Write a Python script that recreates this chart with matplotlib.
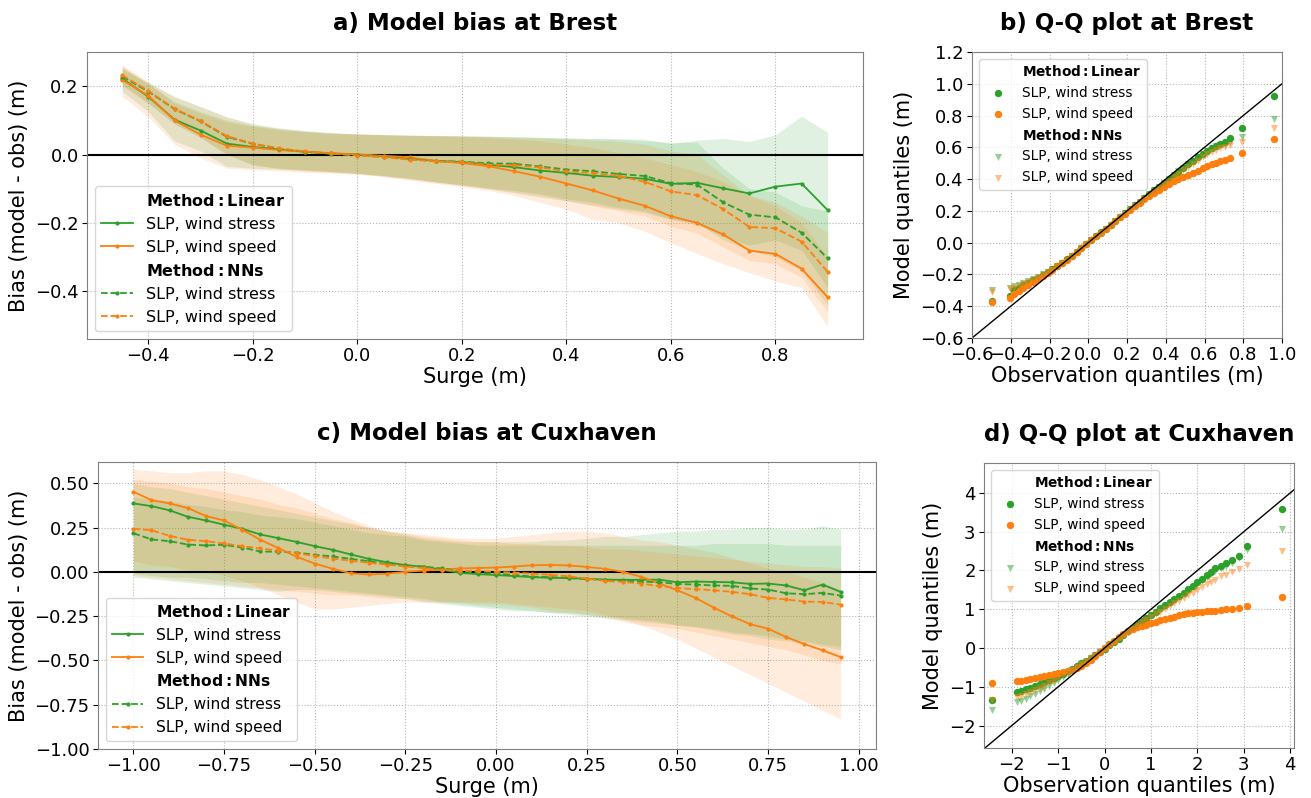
import matplotlib
matplotlib.use("Agg")
import matplotlib.pyplot as plt

GREEN = "#2ca02c"
ORANGE = "#ff7f0e"
W, H = 1311, 798

# ---------------- a) Brest: bias vs surge ----------------
surge_brest = [-0.45, -0.4, -0.35, -0.3, -0.25, -0.2, -0.15, -0.1, -0.05, 0.0,
               0.05, 0.1, 0.15, 0.2, 0.25, 0.3, 0.35, 0.4, 0.45, 0.5,
               0.55, 0.6, 0.65, 0.7, 0.75, 0.8, 0.85, 0.9]
brest_lin_stress = [0.222, 0.169, 0.102, 0.070, 0.032, 0.022, 0.015, 0.008, 0.003, 0.0,
                    -0.005, -0.012, -0.019, -0.022, -0.030, -0.037, -0.047, -0.054, -0.062, -0.066,
                    -0.071, -0.086, -0.083, -0.099, -0.114, -0.094, -0.085, -0.163]
brest_lin_speed = [0.218, 0.172, 0.100, 0.058, 0.026, 0.020, 0.013, 0.008, 0.004, 0.0,
                   -0.004, -0.008, -0.019, -0.025, -0.034, -0.049, -0.065, -0.085, -0.105, -0.129,
                   -0.150, -0.181, -0.200, -0.234, -0.281, -0.291, -0.334, -0.418]
brest_nn_stress = [0.228, 0.184, 0.133, 0.097, 0.052, 0.031, 0.017, 0.008, 0.002, -0.002,
                   -0.007, -0.014, -0.019, -0.021, -0.026, -0.027, -0.035, -0.044, -0.049, -0.057,
                   -0.063, -0.084, -0.088, -0.140, -0.176, -0.184, -0.229, -0.304]
brest_nn_speed = [0.232, 0.186, 0.134, 0.098, 0.054, 0.032, 0.018, 0.009, 0.003, -0.003,
                  -0.008, -0.015, -0.020, -0.023, -0.030, -0.031, -0.038, -0.049, -0.054, -0.063,
                  -0.080, -0.108, -0.119, -0.160, -0.212, -0.216, -0.255, -0.344]
# spread bands (lower / upper)
brest_lin_stress_hi = [0.255, 0.205, 0.155, 0.125, 0.100, 0.085, 0.075, 0.068, 0.063, 0.060,
                       0.058, 0.057, 0.056, 0.055, 0.054, 0.052, 0.050, 0.048, 0.047, 0.046,
                       0.045, 0.032, 0.042, 0.047, 0.038, 0.058, 0.112, 0.065]
brest_lin_stress_lo = [0.185, 0.125, 0.040, 0.010, -0.035, -0.040, -0.043, -0.046, -0.050, -0.055,
                       -0.062, -0.070, -0.080, -0.090, -0.100, -0.112, -0.125, -0.135, -0.148, -0.160,
                       -0.170, -0.190, -0.205, -0.240, -0.265, -0.250, -0.280, -0.390]
brest_nn_stress_hi = [0.250, 0.210, 0.170, 0.140, 0.110, 0.090, 0.078, 0.070, 0.064, 0.060,
                      0.058, 0.056, 0.055, 0.054, 0.053, 0.052, 0.050, 0.048, 0.046, 0.045,
                      0.040, 0.035, 0.036, -0.040, -0.100, -0.110, -0.150, -0.166]
brest_nn_stress_lo = [0.205, 0.150, 0.090, 0.050, 0.000, -0.030, -0.040, -0.045, -0.050, -0.055,
                      -0.062, -0.070, -0.080, -0.088, -0.098, -0.105, -0.115, -0.130, -0.140, -0.155,
                      -0.165, -0.190, -0.200, -0.250, -0.280, -0.300, -0.340, -0.440]
brest_lin_speed_hi = [0.262, 0.210, 0.150, 0.120, 0.095, 0.082, 0.072, 0.066, 0.062, 0.060,
                      0.058, 0.056, 0.055, 0.053, 0.050, 0.045, 0.040, 0.030, 0.020, 0.005,
                      -0.010, -0.030, -0.050, -0.080, -0.120, -0.150, -0.200, -0.300]
brest_lin_speed_lo = [0.170, 0.110, 0.030, -0.010, -0.040, -0.045, -0.048, -0.052, -0.055, -0.058,
                      -0.065, -0.075, -0.085, -0.095, -0.105, -0.120, -0.140, -0.160, -0.190, -0.200,
                      -0.225, -0.258, -0.290, -0.320, -0.346, -0.370, -0.390, -0.504]
brest_nn_speed_hi = [0.258, 0.212, 0.168, 0.140, 0.110, 0.088, 0.076, 0.068, 0.063, 0.060,
                     0.058, 0.056, 0.055, 0.054, 0.052, 0.050, 0.048, 0.045, 0.042, 0.038,
                     0.030, 0.010, 0.000, -0.060, -0.120, -0.140, -0.180, -0.229]
brest_nn_speed_lo = [0.200, 0.150, 0.090, 0.050, 0.000, -0.030, -0.042, -0.048, -0.052, -0.056,
                     -0.064, -0.072, -0.082, -0.090, -0.100, -0.110, -0.120, -0.135, -0.150, -0.165,
                     -0.180, -0.210, -0.230, -0.270, -0.310, -0.320, -0.360, -0.460]

# ---------------- c) Cuxhaven: bias vs surge ----------------
surge_cux = [-1.0, -0.95, -0.9, -0.85, -0.8, -0.75, -0.7, -0.65, -0.6, -0.55,
             -0.5, -0.45, -0.4, -0.35, -0.3, -0.25, -0.2, -0.15, -0.1, -0.05,
             0.0, 0.05, 0.1, 0.15, 0.2, 0.25, 0.3, 0.35, 0.4, 0.45,
             0.5, 0.55, 0.6, 0.65, 0.7, 0.75, 0.8, 0.85, 0.9, 0.95]
cux_lin_stress = [0.386, 0.371, 0.347, 0.311, 0.290, 0.266, 0.243, 0.211, 0.190, 0.169,
                  0.145, 0.124, 0.098, 0.073, 0.054, 0.038, 0.028, 0.013, -0.006, -0.013,
                  -0.018, -0.024, -0.030, -0.034, -0.034, -0.040, -0.044, -0.045, -0.045, -0.044,
                  -0.059, -0.055, -0.057, -0.059, -0.068, -0.066, -0.077, -0.104, -0.072, -0.113]
cux_lin_speed = [0.452, 0.405, 0.386, 0.360, 0.315, 0.290, 0.238, 0.181, 0.134, 0.085,
                 0.047, 0.017, -0.008, -0.015, -0.010, 0.000, 0.007, 0.013, 0.019, 0.022,
                 0.024, 0.030, 0.037, 0.039, 0.036, 0.028, 0.017, 0.000, -0.028, -0.066,
                 -0.104, -0.147, -0.202, -0.251, -0.295, -0.321, -0.368, -0.408, -0.443, -0.481]
cux_nn_stress = [0.218, 0.183, 0.173, 0.154, 0.149, 0.153, 0.137, 0.115, 0.113, 0.109,
                 0.096, 0.087, 0.073, 0.060, 0.043, 0.036, 0.030, 0.019, 0.005, -0.006,
                 -0.012, -0.017, -0.027, -0.030, -0.036, -0.040, -0.045, -0.049, -0.055, -0.059,
                 -0.068, -0.072, -0.077, -0.079, -0.094, -0.100, -0.121, -0.126, -0.119, -0.134]
cux_nn_speed = [0.243, 0.235, 0.203, 0.181, 0.173, 0.160, 0.145, 0.132, 0.120, 0.104,
                0.090, 0.075, 0.062, 0.051, 0.041, 0.030, 0.021, 0.011, 0.007, 0.005,
                0.000, -0.004, -0.010, -0.017, -0.025, -0.038, -0.051, -0.057, -0.066, -0.081,
                -0.091, -0.098, -0.104, -0.113, -0.126, -0.147, -0.156, -0.168, -0.170, -0.185]
cux_lin_stress_hi = [0.50, 0.48, 0.47, 0.45, 0.43, 0.41, 0.39, 0.37, 0.35, 0.33,
                     0.31, 0.29, 0.27, 0.25, 0.23, 0.21, 0.19, 0.18, 0.17, 0.17,
                     0.17, 0.17, 0.17, 0.18, 0.18, 0.19, 0.20, 0.20, 0.21, 0.22,
                     0.23, 0.23, 0.24, 0.24, 0.25, 0.25, 0.24, 0.24, 0.26, 0.24]
cux_lin_stress_lo = [-0.03, -0.04, -0.05, -0.06, -0.07, -0.08, -0.09, -0.10, -0.11, -0.10,
                     -0.10, -0.11, -0.12, -0.13, -0.14, -0.15, -0.17, -0.18, -0.19, -0.20,
                     -0.21, -0.22, -0.22, -0.23, -0.24, -0.25, -0.26, -0.27, -0.28, -0.29,
                     -0.30, -0.31, -0.33, -0.35, -0.36, -0.38, -0.39, -0.41, -0.42, -0.44]
cux_nn_stress_hi = [0.42, 0.41, 0.40, 0.38, 0.37, 0.35, 0.34, 0.32, 0.31, 0.30,
                    0.28, 0.26, 0.24, 0.22, 0.21, 0.20, 0.18, 0.17, 0.16, 0.15,
                    0.15, 0.15, 0.15, 0.15, 0.15, 0.15, 0.15, 0.15, 0.15, 0.15,
                    0.15, 0.15, 0.16, 0.16, 0.16, 0.16, 0.15, 0.15, 0.15, 0.15]
cux_nn_stress_lo = [-0.01, -0.02, -0.03, -0.03, -0.04, -0.05, -0.06, -0.06, -0.07, -0.08,
                    -0.09, -0.10, -0.11, -0.12, -0.13, -0.14, -0.15, -0.17, -0.18, -0.19,
                    -0.20, -0.21, -0.22, -0.23, -0.23, -0.24, -0.25, -0.26, -0.27, -0.28,
                    -0.30, -0.31, -0.32, -0.34, -0.35, -0.36, -0.38, -0.39, -0.41, -0.42]
cux_lin_speed_hi = [0.58, 0.57, 0.56, 0.56, 0.57, 0.57, 0.55, 0.52, 0.48, 0.44,
                    0.39, 0.34, 0.30, 0.26, 0.23, 0.22, 0.21, 0.20, 0.19, 0.19,
                    0.19, 0.20, 0.21, 0.22, 0.23, 0.23, 0.22, 0.20, 0.18, 0.17,
                    0.15, 0.13, 0.11, 0.08, 0.05, 0.02, 0.00, -0.03, -0.06, -0.10]
cux_lin_speed_lo = [0.06, 0.04, 0.03, 0.01, 0.00, -0.02, -0.05, -0.09, -0.13, -0.17,
                    -0.21, -0.21, -0.20, -0.19, -0.18, -0.17, -0.17, -0.17, -0.17, -0.17,
                    -0.17, -0.18, -0.19, -0.20, -0.21, -0.22, -0.24, -0.27, -0.30, -0.34,
                    -0.38, -0.43, -0.48, -0.53, -0.58, -0.63, -0.68, -0.73, -0.78, -0.83]
cux_nn_speed_hi = [0.52, 0.51, 0.50, 0.48, 0.47, 0.45, 0.43, 0.41, 0.38, 0.36,
                   0.33, 0.30, 0.28, 0.25, 0.23, 0.22, 0.20, 0.19, 0.18, 0.17,
                   0.17, 0.16, 0.16, 0.15, 0.15, 0.14, 0.13, 0.13, 0.12, 0.11,
                   0.10, 0.09, 0.08, 0.07, 0.06, 0.05, 0.04, 0.03, 0.03, 0.02]
cux_nn_speed_lo = [-0.02, -0.03, -0.04, -0.05, -0.06, -0.07, -0.08, -0.09, -0.10, -0.11,
                   -0.12, -0.13, -0.13, -0.14, -0.15, -0.15, -0.16, -0.17, -0.17, -0.18,
                   -0.18, -0.19, -0.20, -0.22, -0.23, -0.24, -0.26, -0.28, -0.30, -0.31,
                   -0.32, -0.34, -0.36, -0.38, -0.40, -0.42, -0.44, -0.47, -0.50, -0.52]

# ---------------- b) Brest Q-Q ----------------
qq_obs_brest = [-0.495, -0.405, -0.385, -0.36, -0.335, -0.31, -0.285, -0.26, -0.235, -0.21,
                -0.185, -0.16, -0.135, -0.11, -0.085, -0.06, -0.035, -0.01, 0.015, 0.04,
                0.065, 0.09, 0.115, 0.14, 0.165, 0.19, 0.215, 0.24, 0.265, 0.29,
                0.315, 0.34, 0.365, 0.39, 0.415, 0.44, 0.465, 0.49, 0.515, 0.54,
                0.565, 0.59, 0.615, 0.64, 0.66, 0.682, 0.704, 0.73, 0.794, 0.957]
qq_brest_lin_stress = [-0.367, -0.338, -0.300, -0.285, -0.268, -0.252, -0.236, -0.220, -0.204, -0.186,
                       -0.167, -0.148, -0.127, -0.105, -0.082, -0.058, -0.034, -0.010, 0.015, 0.040,
                       0.064, 0.088, 0.113, 0.137, 0.161, 0.186, 0.210, 0.234, 0.258, 0.282,
                       0.306, 0.330, 0.353, 0.377, 0.400, 0.424, 0.447, 0.470, 0.493, 0.515,
                       0.537, 0.558, 0.578, 0.596, 0.610, 0.622, 0.636, 0.656, 0.721, 0.922]
qq_brest_lin_speed = [-0.371, -0.350, -0.320, -0.305, -0.288, -0.268, -0.250, -0.230, -0.210, -0.190,
                      -0.170, -0.150, -0.129, -0.107, -0.084, -0.060, -0.036, -0.011, 0.014, 0.039,
                      0.063, 0.087, 0.111, 0.135, 0.159, 0.183, 0.206, 0.229, 0.251, 0.273,
                      0.294, 0.314, 0.334, 0.352, 0.369, 0.385, 0.400, 0.414, 0.428, 0.441,
                      0.454, 0.467, 0.480, 0.492, 0.502, 0.512, 0.522, 0.535, 0.564, 0.654]
qq_brest_nn_stress = [-0.298, -0.283, -0.275, -0.265, -0.255, -0.243, -0.230, -0.216, -0.200, -0.184,
                      -0.166, -0.148, -0.128, -0.106, -0.083, -0.059, -0.035, -0.010, 0.014, 0.039,
                      0.063, 0.088, 0.112, 0.137, 0.161, 0.186, 0.210, 0.234, 0.258, 0.282,
                      0.306, 0.330, 0.353, 0.377, 0.401, 0.425, 0.448, 0.471, 0.494, 0.516,
                      0.538, 0.559, 0.578, 0.595, 0.606, 0.614, 0.622, 0.632, 0.667, 0.776]
qq_brest_nn_speed = [-0.308, -0.293, -0.285, -0.272, -0.260, -0.247, -0.234, -0.220, -0.204, -0.187,
                     -0.169, -0.150, -0.130, -0.108, -0.085, -0.061, -0.036, -0.011, 0.014, 0.038,
                     0.062, 0.087, 0.111, 0.135, 0.159, 0.183, 0.207, 0.231, 0.254, 0.277,
                     0.300, 0.323, 0.346, 0.368, 0.390, 0.412, 0.434, 0.455, 0.476, 0.497,
                     0.517, 0.537, 0.555, 0.572, 0.584, 0.594, 0.603, 0.612, 0.633, 0.719]

# ---------------- d) Cuxhaven Q-Q ----------------
qq_obs_cux = [-2.42, -1.88, -1.8, -1.7, -1.6, -1.5, -1.4, -1.3, -1.2, -1.1,
              -1.0, -0.9, -0.8, -0.7, -0.6, -0.5, -0.4, -0.3, -0.2, -0.1,
              0.0, 0.1, 0.2, 0.3, 0.4, 0.5, 0.6, 0.7, 0.8, 0.9,
              1.0, 1.1, 1.2, 1.3, 1.4, 1.5, 1.6, 1.7, 1.8, 1.9,
              2.0, 2.1, 2.2, 2.3, 2.37, 2.50, 2.61, 2.75, 2.89, 3.06, 3.83]
qq_cux_lin_stress = [-1.35, -1.14, -1.11, -1.07, -1.03, -0.98, -0.93, -0.88, -0.83, -0.775,
                     -0.72, -0.66, -0.60, -0.535, -0.47, -0.40, -0.33, -0.25, -0.17, -0.095,
                     -0.02, 0.065, 0.15, 0.24, 0.33, 0.425, 0.52, 0.61, 0.70, 0.78,
                     0.86, 0.94, 1.02, 1.10, 1.18, 1.26, 1.34, 1.43, 1.52, 1.61,
                     1.70, 1.785, 1.87, 1.96, 2.06, 2.12, 2.18, 2.26, 2.38, 2.64, 3.59]
qq_cux_lin_speed = [-0.90, -0.86, -0.84, -0.815, -0.79, -0.765, -0.74, -0.72, -0.695, -0.67,
                    -0.645, -0.62, -0.59, -0.56, -0.52, -0.46, -0.39, -0.30, -0.20, -0.10,
                    0.0, 0.10, 0.19, 0.28, 0.36, 0.425, 0.48, 0.53, 0.57, 0.605,
                    0.64, 0.675, 0.71, 0.745, 0.78, 0.81, 0.84, 0.865, 0.89, 0.905,
                    0.92, 0.935, 0.945, 0.955, 0.96, 0.98, 1.00, 1.015, 1.04, 1.09, 1.32]
qq_cux_nn_stress = [-1.61, -1.40, -1.36, -1.31, -1.25, -1.19, -1.12, -1.05, -0.97, -0.90,
                    -0.82, -0.74, -0.66, -0.58, -0.50, -0.425, -0.35, -0.265, -0.18, -0.10,
                    -0.02, 0.065, 0.15, 0.24, 0.33, 0.42, 0.51, 0.595, 0.68, 0.76,
                    0.84, 0.92, 1.00, 1.075, 1.15, 1.23, 1.31, 1.395, 1.48, 1.565,
                    1.65, 1.735, 1.82, 1.90, 1.98, 2.06, 2.12, 2.20, 2.31, 2.52, 3.08]
qq_cux_nn_speed = [-1.35, -1.26, -1.23, -1.18, -1.13, -1.08, -1.02, -0.97, -0.91, -0.845,
                   -0.78, -0.71, -0.64, -0.565, -0.49, -0.415, -0.34, -0.255, -0.17, -0.09,
                   -0.01, 0.075, 0.16, 0.245, 0.33, 0.415, 0.50, 0.58, 0.66, 0.73,
                   0.80, 0.87, 0.94, 1.01, 1.08, 1.15, 1.22, 1.29, 1.36, 1.43,
                   1.50, 1.57, 1.64, 1.71, 1.76, 1.85, 1.89, 1.95, 2.04, 2.15, 2.49]

LIN_TITLE = r"$\bf{Method:Linear}$"
NN_TITLE = r"$\bf{Method:NNs}$"


def px_rect(l, t, r, b):
    return [l / W, 1 - b / H, (r - l) / W, (b - t) / H]


def style_axes(ax):
    ax.grid(True, ls=":", color="#b5b5b5", lw=0.8)
    ax.set_axisbelow(True)
    for s in ax.spines.values():
        s.set_color("#808080")
    ax.tick_params(labelsize=13, pad=2.5)


def bias_panel(ax, x, lines, bands, title, legsize):
    for (lo, hi), c in zip(bands, [GREEN, ORANGE, GREEN, ORANGE]):
        ax.fill_between(x, lo, hi, color=c, alpha=0.14, lw=0)
    ax.axhline(0, color="k", lw=1.5)
    h0, = ax.plot([], [], " ", label=LIN_TITLE)
    h1, = ax.plot(x, lines[0], color=GREEN, lw=1.3, marker=".", ms=4, label="SLP, wind stress")
    h2, = ax.plot(x, lines[1], color=ORANGE, lw=1.3, marker=".", ms=4, label="SLP, wind speed")
    h3, = ax.plot([], [], " ", label=NN_TITLE)
    h4, = ax.plot(x, lines[2], color=GREEN, lw=1.3, ls="--", marker=".", ms=4, label="SLP, wind stress")
    h5, = ax.plot(x, lines[3], color=ORANGE, lw=1.3, ls="--", marker=".", ms=4, label="SLP, wind speed")
    ax.legend(handles=[h0, h1, h2, h3, h4, h5], loc="lower left", fontsize=legsize)
    ax.set_xlabel("Surge (m)", fontsize=15, labelpad=1)
    ax.set_ylabel("Bias (model - obs) (m)", fontsize=15)
    ax.set_title(title, fontsize=16.5, fontweight="bold", pad=16)
    style_axes(ax)


def qq_panel(ax, obs, series, title):
    h0 = ax.scatter([], [], marker="None", label=LIN_TITLE)
    h1 = ax.scatter(obs, series[0], color=GREEN, s=28, lw=0, label="SLP, wind stress")
    h2 = ax.scatter(obs, series[1], color=ORANGE, s=28, lw=0, label="SLP, wind speed")
    h3 = ax.scatter([], [], marker="None", label=NN_TITLE)
    h4 = ax.scatter(obs, series[2], color=GREEN, s=26, lw=0, marker="v", alpha=0.5, label="SLP, wind stress")
    h5 = ax.scatter(obs, series[3], color=ORANGE, s=26, lw=0, marker="v", alpha=0.5, label="SLP, wind speed")
    ax.axline((0, 0), (1, 1), color="k", lw=1)
    ax.legend(handles=[h0, h1, h2, h3, h4, h5], loc="upper left", fontsize=9.8, scatterpoints=1)
    ax.set_xlabel("Observation quantiles (m)", fontsize=15, labelpad=1)
    ax.set_ylabel("Model quantiles (m)", fontsize=15)
    ax.set_title(title, fontsize=16.5, fontweight="bold", pad=16)
    style_axes(ax)


fig = plt.figure(figsize=(W / 100, H / 100), dpi=100)

ax_a = fig.add_axes(px_rect(87, 52, 863, 339))
bias_panel(ax_a, surge_brest,
           [brest_lin_stress, brest_lin_speed, brest_nn_stress, brest_nn_speed],
           [(brest_lin_stress_lo, brest_lin_stress_hi), (brest_lin_speed_lo, brest_lin_speed_hi),
            (brest_nn_stress_lo, brest_nn_stress_hi), (brest_nn_speed_lo, brest_nn_speed_hi)],
           "a) Model bias at Brest", 11.5)
ax_a.set_ylim(-0.54, 0.30)
ax_a.set_yticks([-0.4, -0.2, 0.0, 0.2])

ax_c = fig.add_axes(px_rect(98, 462, 876, 749))
bias_panel(ax_c, surge_cux,
           [cux_lin_stress, cux_lin_speed, cux_nn_stress, cux_nn_speed],
           [(cux_lin_stress_lo, cux_lin_stress_hi), (cux_lin_speed_lo, cux_lin_speed_hi),
            (cux_nn_stress_lo, cux_nn_stress_hi), (cux_nn_speed_lo, cux_nn_speed_hi)],
           "c) Model bias at Cuxhaven", 11.2)
ax_c.set_ylim(-1.0, 0.62)

ax_b = fig.add_axes(px_rect(972, 52, 1282, 338))
qq_panel(ax_b, qq_obs_brest,
         [qq_brest_lin_stress, qq_brest_lin_speed, qq_brest_nn_stress, qq_brest_nn_speed],
         "b) Q-Q plot at Brest")
ax_b.set_xlim(-0.6, 1.0)
ax_b.set_ylim(-0.6, 1.2)
ax_b.set_xticks([-0.6, -0.4, -0.2, 0.0, 0.2, 0.4, 0.6, 0.8, 1.0])
ax_b.set_yticks([-0.6, -0.4, -0.2, 0.0, 0.2, 0.4, 0.6, 0.8, 1.0, 1.2])

ax_d = fig.add_axes(px_rect(984, 463, 1294, 748))
qq_panel(ax_d, qq_obs_cux,
         [qq_cux_lin_stress, qq_cux_lin_speed, qq_cux_nn_stress, qq_cux_nn_speed],
         "d) Q-Q plot at Cuxhaven")
ax_d.set_xlim(-2.6, 4.08)
ax_d.set_ylim(-2.58, 4.77)
ax_d.set_xticks([-2, -1, 0, 1, 2, 3, 4])
ax_d.set_yticks([-2, -1, 0, 1, 2, 3, 4])

fig.savefig("out.png", dpi=100)
